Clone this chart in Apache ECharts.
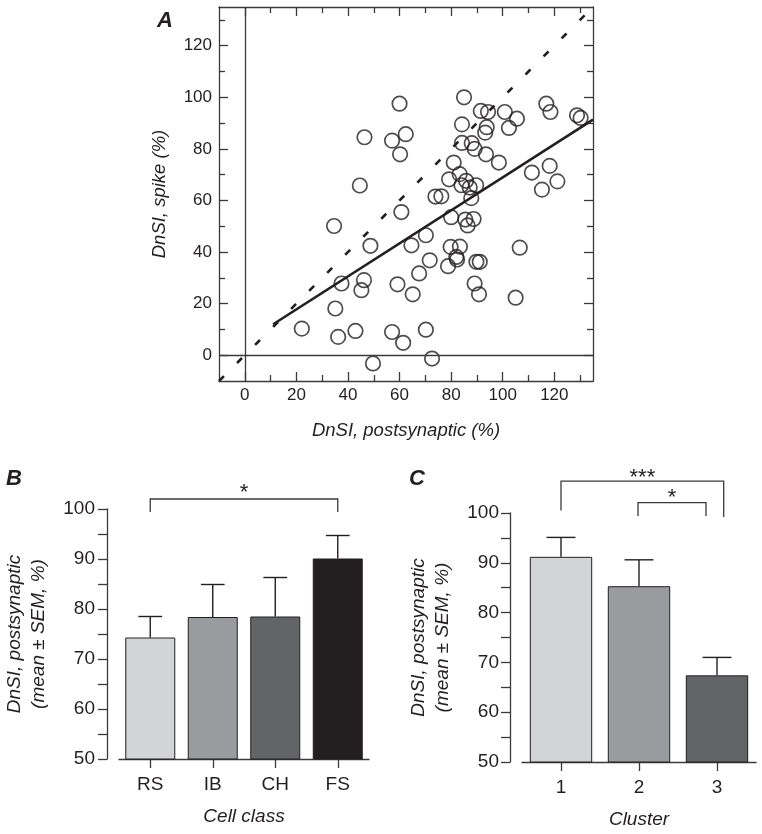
<!DOCTYPE html>
<html><head><meta charset="utf-8">
<script src="https://cdn.jsdelivr.net/npm/echarts@6/dist/echarts.min.js"></script>
<style>html,body{margin:0;padding:0;background:#fff}#c{width:762px;height:834px}</style>
</head><body><div id="c"></div>
<script>
// ---- Panel A data ----
const postsynaptic = [85, 60, 91.5, 94.3, 100.8, 105.5, 102.4, 93.8, 93.2, 84.2, 116.9, 118.5, 128.8, 130.2,
  46.4, 57.1, 62.4, 60.2, 84.2, 88, 89.1, 93.5, 98.5, 81, 111.3, 118.2, 121.2, 115.2, 44.6, 79.2, 83.3, 85.8,
  84, 87.2, 89.7, 87.8, 73.9, 76.2, 60.7, 34.6, 80, 85.5, 88.7, 86.4, 48.7, 64.6, 70.2, 79.8, 83.4, 82, 82.3,
  71.7, 78.8, 89.8, 91.1, 67.6, 106.6, 37.5, 46.2, 45.2, 59.2, 65.1, 89.1, 90.8, 105, 35.1, 22.1, 36.2, 42.9,
  57.1, 61.4, 70.2, 49.7, 72.6];
const spike = [100, 97.5, 94.7, 94.3, 94.3, 91.7, 88.1, 88.4, 86.3, 89.5, 97.5, 94.3, 93, 92,
  84.5, 83.2, 85.7, 77.9, 82.3, 82.2, 80, 77.9, 74.7, 74.7, 70.8, 73.4, 67.4, 64.2, 65.8, 68.2, 70.2, 67.6,
  65.9, 65, 65.9, 60.9, 61.5, 61.6, 55.5, 50.1, 53.5, 52.6, 52.8, 50.3, 42.4, 42.6, 46.5, 42, 42.1, 38.1, 37.1,
  36.8, 34.5, 36.2, 36.2, 31.7, 41.7, 27.8, 29.1, 25.2, 27.5, 23.6, 27.8, 23.6, 22.3, 18.1, 10.3, 7.1, 9.4,
  9, 4.8, 9.9, -3.2, -1.3];
const fitX = [11, 135];
const fitY = [12, 91.3];
const identityX = [-10, 132];
const aTicksMajor = [0, 20, 40, 60, 80, 100, 120];
const aTicksMinor = [10, 30, 50, 70, 90, 110, 130];

// ---- Panel B data ----
const cellClasses = ['RS', 'IB', 'CH', 'FS'];
const cellMean = [74.3, 78.4, 78.5, 90.1];
const cellSem = [4.2, 6.5, 7.8, 4.6];
const sigBFrom = [0];
const sigBTo = [3];
const sigBLabel = ['*'];

// ---- Panel C data ----
const clusters = ['1', '2', '3'];
const clusterMean = [91.2, 85.3, 67.4];
const clusterSem = [3.9, 5.3, 3.6];
const sigCFrom = [0, 1];
const sigCTo = [2, 2];
const sigCLabel = ['***', '*'];

// ---- styles ----
const FONT = '"Liberation Sans", Arial, sans-serif';
const INK = '#231f20';
const AX = '#3a3a3a';
const cellColors = ['#d3d4d6', '#9a9b9e', '#636466', '#231f20'];
const clusterColors = ['#d3d4d6', '#9a9b9e', '#636466'];

// bracket layout (value-level + pixel offsets), not data
const bracketLayoutB = [{top: 102.0, legL: 99.4, legR: 99.4, dxL: 0, dxR: 0, textY: 103.3}];
const bracketLayoutC = [
  {top: 106.4, legL: 100.5, legR: 99.2, dxL: 0, dxR: 6.7, textY: 107.0},
  {top: 102.1, legL: 99.4, legR: 99.4, dxL: -1, dxR: -11, textY: 103.0}
];

const chart = echarts.init(document.getElementById('c'), null, {renderer: 'canvas'});

function valAxisA(pos, gridIndex, ticks, len, showLine, showLabel, extra) {
  return Object.assign({
    type: 'value', gridIndex: gridIndex, position: pos, min: -10, max: 135, interval: 10,
    axisLine: {show: showLine, onZero: false, lineStyle: {color: AX, width: 1.3}},
    axisTick: {show: true, inside: true, length: len, customValues: ticks, lineStyle: {color: AX, width: 1.3}},
    axisLabel: {show: showLabel, customValues: aTicksMajor, fontFamily: FONT, fontSize: 17, color: INK},
    splitLine: {show: false}
  }, extra || {});
}

const scatterData = postsynaptic.map((x, i) => [x, spike[i]]);
const identityData = identityX.map(v => [v, v]);
const fitData = fitX.map((x, i) => [x, fitY[i]]);

function errorBarSeries(xi, means, sems, capFrac) {
  return {
    type: 'custom', xAxisIndex: xi, yAxisIndex: xi, z: 5,
    data: means.map((m, i) => [i, m, m + sems[i]]),
    renderItem: function (params, api) {
      const p0 = api.coord([api.value(0), api.value(1)]);
      const p1 = api.coord([api.value(0), api.value(2)]);
      const hw = api.size([1, 0])[0] * capFrac / 2;
      const st = {stroke: INK, lineWidth: 1.4, fill: null};
      return {type: 'group', children: [
        {type: 'line', shape: {x1: p0[0], y1: p0[1], x2: p1[0], y2: p1[1]}, style: st},
        {type: 'line', shape: {x1: p1[0] - hw, y1: p1[1], x2: p1[0] + hw, y2: p1[1]}, style: st}
      ]};
    }
  };
}

function bracketSeries(xi, from, to, labels, layout) {
  return {
    type: 'custom', xAxisIndex: xi, yAxisIndex: xi, z: 6, clip: false, silent: true,
    data: from.map((f, i) => [f, to[i], i]),
    renderItem: function (params, api) {
      const L = layout[api.value(2)];
      const a = api.coord([api.value(0), L.legL]);
      const at = api.coord([api.value(0), L.top]);
      const b = api.coord([api.value(1), L.legR]);
      const bt = api.coord([api.value(1), L.top]);
      const t = api.coord([api.value(0), L.textY]);
      const xl = a[0] + L.dxL, xr = b[0] + L.dxR;
      return {type: 'group', children: [
        {type: 'polyline', shape: {points: [[xl, a[1]], [xl, at[1]], [xr, bt[1]], [xr, b[1]]]},
         style: {stroke: AX, lineWidth: 1.3, fill: null}},
        {type: 'text', x: (xl + xr) / 2, y: t[1],
         style: {text: labels[api.value(2)], font: '22px ' + FONT, fill: INK, align: 'center', verticalAlign: 'middle'}}
      ]};
    }
  };
}

function catAxis(gridIndex, cats, name, nameGap) {
  return {
    type: 'category', gridIndex: gridIndex, data: cats, position: 'bottom',
    axisLine: {show: true, lineStyle: {color: AX, width: 1.3}},
    axisTick: {show: true, alignWithLabel: true, length: 9, lineStyle: {color: AX, width: 1.3}},
    axisLabel: {fontFamily: FONT, fontSize: 19, color: INK, margin: 16},
    name: name, nameLocation: 'middle', nameGap: nameGap,
    nameTextStyle: {fontFamily: FONT, fontSize: 19, fontStyle: 'italic', color: INK, lineHeight: 22}
  };
}

function barValAxis(gridIndex, nameGap, margin) {
  return {
    type: 'value', gridIndex: gridIndex, position: 'left', min: 50, max: 100, interval: 5, offset: 12,
    axisLine: {show: true, lineStyle: {color: AX, width: 1.3}},
    axisTick: {show: true, length: 9, lineStyle: {color: AX, width: 1.3}},
    axisLabel: {fontFamily: FONT, fontSize: 19, color: INK, margin: margin,
      formatter: v => (v % 10 === 0 ? String(v) : '')},
    splitLine: {show: false},
    name: 'DnSI, postsynaptic\n(mean ± SEM, %)', nameLocation: 'middle', nameGap: nameGap, nameRotate: 90,
    nameTextStyle: {fontFamily: FONT, fontSize: 19, fontStyle: 'italic', color: INK, lineHeight: 24}
  };
}

const option = {
  backgroundColor: '#ffffff',
  animation: false,
  grid: [
    {left: 219, top: 7, width: 374, height: 374},
    {left: 119, top: 509, width: 250, height: 250},
    {left: 522, top: 513, width: 234, height: 249}
  ],
  xAxis: [
    valAxisA('bottom', 0, aTicksMinor, 6, true, true, {
      axisLabel: {show: true, customValues: aTicksMajor, fontFamily: FONT, fontSize: 17, color: INK, margin: 6},
      name: 'DnSI, postsynaptic (%)', nameLocation: 'middle', nameGap: 39,
      nameTextStyle: {fontFamily: FONT, fontSize: 18.5, fontStyle: 'italic', color: INK, lineHeight: 22}
    }),
    valAxisA('bottom', 0, aTicksMajor, 9, false, false),
    valAxisA('top', 0, aTicksMinor, 6, true, false),
    valAxisA('top', 0, aTicksMajor, 9, false, false),
    catAxis(1, cellClasses, 'Cell class', 47),
    catAxis(2, clusters, 'Cluster', 47)
  ],
  yAxis: [
    valAxisA('left', 0, aTicksMinor, 6, true, true, {
      axisLabel: {show: true, customValues: aTicksMajor, fontFamily: FONT, fontSize: 17, color: INK, margin: 7},
      name: 'DnSI, spike (%)', nameLocation: 'middle', nameGap: 48, nameRotate: 90,
      nameTextStyle: {fontFamily: FONT, fontSize: 18.5, fontStyle: 'italic', color: INK, lineHeight: 22}
    }),
    valAxisA('left', 0, aTicksMajor, 9, false, false),
    valAxisA('right', 0, aTicksMinor, 6, true, false),
    valAxisA('right', 0, aTicksMajor, 9, false, false),
    barValAxis(1, 56, 12),
    barValAxis(2, 55, 11)
  ],
  graphic: [
    {type: 'text', left: 157, top: 10, style: {text: 'A', font: 'italic bold 22px ' + FONT, fill: INK}},
    {type: 'text', left: 6, top: 468, style: {text: 'B', font: 'italic bold 22px ' + FONT, fill: INK}},
    {type: 'text', left: 409, top: 468, style: {text: 'C', font: 'italic bold 22px ' + FONT, fill: INK}}
  ],
  series: [
    {
      type: 'line', xAxisIndex: 0, yAxisIndex: 0, data: identityData, symbol: 'none', silent: true, z: 2,
      lineStyle: {color: INK, width: 2.6, type: [7, 18.5]}
    },
    {
      type: 'line', xAxisIndex: 0, yAxisIndex: 0, data: fitData, symbol: 'none', silent: true, z: 2,
      lineStyle: {color: INK, width: 2.6}
    },
    {
      type: 'scatter', xAxisIndex: 0, yAxisIndex: 0, data: scatterData, symbol: 'circle', symbolSize: 14.5, z: 3,
      itemStyle: {color: 'rgba(0,0,0,0)', borderColor: INK, borderWidth: 1.7},
      markLine: {
        silent: true, symbol: ['none', 'none'], label: {show: false},
        lineStyle: {color: AX, width: 1.3, type: 'solid'},
        data: [{xAxis: 0}, {yAxis: 0}]
      }
    },
    {
      type: 'bar', xAxisIndex: 4, yAxisIndex: 4, barWidth: '80%', z: 3,
      data: cellMean.map((m, i) => ({value: m, itemStyle: {color: cellColors[i]}})),
      itemStyle: {borderColor: INK, borderWidth: 1}
    },
    errorBarSeries(4, cellMean, cellSem, 0.38),
    bracketSeries(4, sigBFrom, sigBTo, sigBLabel, bracketLayoutB),
    {
      type: 'bar', xAxisIndex: 5, yAxisIndex: 5, barWidth: '80%', z: 3,
      data: clusterMean.map((m, i) => ({value: m, itemStyle: {color: clusterColors[i]}})),
      itemStyle: {borderColor: INK, borderWidth: 1}
    },
    errorBarSeries(5, clusterMean, clusterSem, 0.37),
    bracketSeries(5, sigCFrom, sigCTo, sigCLabel, bracketLayoutC)
  ]
};
chart.setOption(option);
</script>
</body></html>
